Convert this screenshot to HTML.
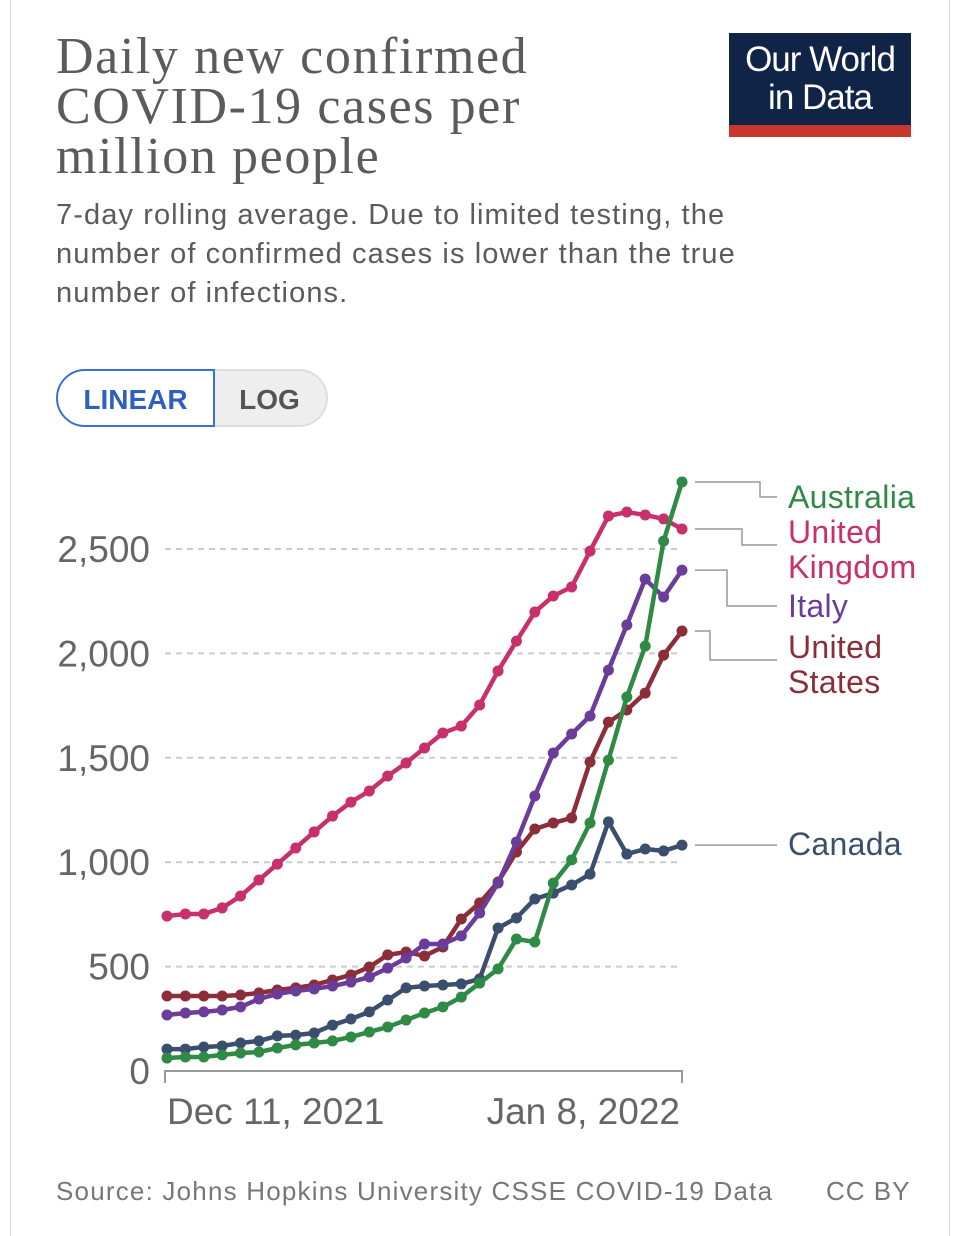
<!DOCTYPE html>
<html><head><meta charset="utf-8"><style>
body{margin:0;background:#fff;}
#page{position:relative;width:960px;height:1236px;overflow:hidden;font-family:"Liberation Sans",sans-serif;}
.edge{position:absolute;top:0;bottom:0;width:1px;background:#ddd;}
#title{position:absolute;left:56px;top:32px;font-family:"Liberation Serif",serif;font-size:52px;line-height:50px;color:#5b5b5b;margin:0;font-weight:normal;letter-spacing:1.6px;}
#sub{position:absolute;left:56px;top:196px;font-size:29px;line-height:39px;color:#5b5b5b;white-space:nowrap;letter-spacing:1.1px;}
#logo{position:absolute;left:729px;top:33px;width:182px;height:104px;background:#0f2446;}
#logo .bar{position:absolute;left:0;right:0;bottom:0;height:12px;background:#c8372d;}
#logo .t{position:absolute;left:0;right:0;top:8px;text-align:center;color:#fff;font-size:35px;line-height:38px;letter-spacing:-1px;}
.btn{position:absolute;top:369px;height:58px;line-height:58px;text-align:center;font-size:28px;box-sizing:border-box;font-weight:bold;}
#lin{left:56px;width:159px;border:2px solid #3b6fd6;border-radius:29px 0 0 29px;color:#2f5fbf;background:#fff;z-index:2;}
#log{left:213px;width:115px;border:2px solid #ddd;border-left:none;border-radius:0 29px 29px 0;background:#eee;color:#555;}
#src{position:absolute;left:56px;top:1176px;font-size:26px;color:#777;letter-spacing:1.2px;}
#cc{position:absolute;left:826px;top:1176px;font-size:26px;color:#777;letter-spacing:1px;}
</style></head><body>
<div id="page">
<div class="edge" style="left:10px"></div>
<div class="edge" style="left:949px"></div>
<h1 id="title">Daily new confirmed<br>COVID-19 cases per<br>million people</h1>
<div id="sub">7-day rolling average. Due to limited testing, the<br>number of confirmed cases is lower than the true<br>number of infections.</div>
<div id="logo"><div class="t">Our World<br>in Data</div><div class="bar"></div></div>
<div id="lin" class="btn">LINEAR</div>
<div id="log" class="btn">LOG</div>
<svg id="chart" width="960" height="1236" style="position:absolute;left:0;top:0"></svg>
<div id="src">Source: Johns Hopkins University CSSE COVID-19 Data</div>
<div id="cc">CC BY</div>
</div>
<script>
const dates=["Dec 11, 2021","Jan 8, 2022"];
const yTicks=[0,500,1000,1500,2000,2500];
const seriesNames=["United Kingdom","Italy","United States","Canada","Australia"];
const uk=[742,752,752,781,838,915,991,1068,1145,1221,1288,1341,1413,1475,1547,1619,1652,1753,1916,2059,2198,2275,2318,2490,2658,2677,2663,2644,2596];
const italy=[268,278,283,292,307,345,369,383,393,407,426,450,493,541,608,608,647,757,900,1097,1317,1523,1614,1700,1920,2136,2356,2270,2399];
const us=[359,359,359,359,364,374,388,398,412,436,460,498,556,570,551,594,728,805,905,1049,1159,1188,1212,1480,1671,1729,1810,1992,2107];
const canada=[105,105,115,120,134,144,168,172,182,220,249,283,340,398,407,412,417,441,685,733,824,852,891,943,1193,1039,1063,1054,1082];
const australia=[62,67,67,77,86,91,110,125,134,144,163,187,211,244,278,307,354,421,489,632,618,900,1011,1188,1489,1791,2035,2538,2821];
const colors=["#c8306c","#6b3d9a","#8b2e3a","#3c4e6e","#2f8a46"];
const NS="http://www.w3.org/2000/svg";
const svg=document.getElementById('chart');
const X0=167,X1=682,Y0=1071,PPU=0.2088;
const N=uk.length;
const xs=i=>X0+(X1-X0)*i/(N-1);
const ys=v=>Y0-v*PPU;
function mk(t,a){const e=document.createElementNS(NS,t);for(const k in a)e.setAttribute(k,a[k]);svg.appendChild(e);return e;}
yTicks.forEach(v=>{
  if(v>0){const g=mk('line',{x1:165,x2:682,y1:ys(v),y2:ys(v),stroke:'#ccc','stroke-width':2,'stroke-dasharray':'6,5'});
  
  }
  const t=mk('text',{x:150,y:ys(v)+13,'text-anchor':'end','font-size':37,fill:'#666','font-family':'Liberation Sans, sans-serif'});
  t.textContent=v.toLocaleString('en-US');
  
  
});
const ax=mk('path',{d:`M${X0-2},1083V${Y0}H${X1}V1083`,fill:'none',stroke:'#999','stroke-width':2});


const xl1=mk('text',{x:X0,y:1124,'font-size':37,fill:'#666','font-family':'Liberation Sans, sans-serif'});xl1.textContent=dates[0];


const xl2=mk('text',{x:X1-2,y:1124,'text-anchor':'end','font-size':37,fill:'#666','font-family':'Liberation Sans, sans-serif'});xl2.textContent=dates[1];


const all=[uk,italy,us,canada,australia];
const order=[3,2,1,0,4];
order.forEach(s=>{
  const d=all[s];
  const p=mk('polyline',{points:d.map((v,i)=>xs(i)+','+ys(v)).join(' '),fill:'none',stroke:colors[s],'stroke-width':4.5,'stroke-linejoin':'round'});
  
  
  d.forEach((v,i)=>{const c=mk('circle',{cx:xs(i),cy:ys(v),r:5.5,fill:colors[s]});
    
    });
});
const legend=[
 {s:4,lines:["Australia"],ly:497,bx:760},
 {s:0,lines:["United","Kingdom"],ly:545,bx:742},
 {s:1,lines:["Italy"],ly:606,bx:727},
 {s:2,lines:["United","States"],ly:660,bx:710},
 {s:3,lines:["Canada"],ly:844,bx:null}];
legend.forEach(L=>{
  const d=all[L.s];const y0=ys(d[N-1]);
  const pd=L.bx?`M695,${y0}H${L.bx}V${L.ly}H777`:`M695,${y0}H777`;
  const l=mk('path',{d:pd,fill:'none',stroke:'#999','stroke-width':1.5});
  
  
  const top=L.lines.length>1?L.ly-13:L.ly;
  L.lines.forEach((tx,k)=>{const t=mk('text',{x:788,y:top+11+k*35,'font-size':32,fill:colors[L.s],'font-family':'Liberation Sans, sans-serif','letter-spacing':'0.3'});t.textContent=tx;
    
    });
});
</script>
</body></html>
